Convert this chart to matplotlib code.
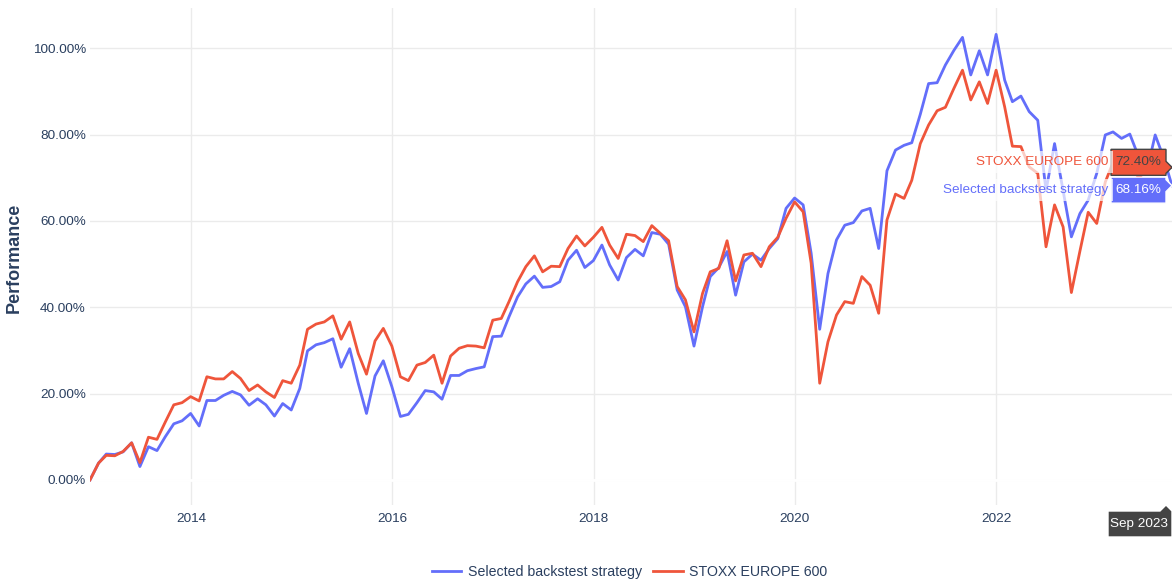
import matplotlib
matplotlib.use('Agg')
import matplotlib.pyplot as plt
import matplotlib.dates as mdates
import pandas as pd
from matplotlib.patches import Polygon
from matplotlib.transforms import IdentityTransform

plt.rcParams['font.family'] = ['Liberation Sans', 'DejaVu Sans']

# ---------------- data ----------------
dates = pd.date_range('2012-12-31', '2023-09-30', freq='ME')

strategy = [0, 3.9, 6.0, 5.9, 6.5, 8.6, 3.1, 7.7, 6.8, 10.0,
            13.0, 13.7, 15.4, 12.5, 18.4, 18.4, 19.6, 20.5, 19.7, 17.3,
            18.8, 17.4, 14.8, 17.7, 16.2, 21.2, 29.9, 31.3, 31.8, 32.7,
            26.1, 30.4, 22.4, 15.4, 24.1, 27.6, 21.6, 14.7, 15.2, 17.9,
            20.7, 20.4, 18.7, 24.2, 24.2, 25.3, 25.8, 26.2, 33.2, 33.3,
            37.8, 42.4, 45.4, 47.2, 44.6, 44.8, 45.9, 50.9, 53.2, 49.2,
            50.8, 54.4, 49.8, 46.3, 51.5, 53.4, 51.9, 57.3, 56.9, 54.6,
            44.0, 40.1, 31.0, 40.1, 47.1, 49.2, 52.9, 42.8, 50.5, 52.3,
            50.9, 53.6, 55.9, 62.9, 65.3, 63.7, 52.5, 34.9, 47.8, 55.6,
            59.0, 59.6, 62.3, 62.9, 53.6, 71.6, 76.4, 77.5, 78.1, 84.7,
            91.8, 92.0, 96.1, 99.5, 102.5, 93.8, 99.4, 93.8, 103.2, 92.6,
            87.6, 88.9, 85.3, 83.3, 67.0, 77.9, 67.0, 56.3, 61.7, 64.8,
            71.0, 79.9, 80.6, 79.1, 80.1, 75.0, 71.3, 79.9, 74.6, 68.16]

stoxx = [0, 3.9, 5.7, 5.6, 6.6, 8.6, 4.0, 9.9, 9.4, 13.4,
         17.4, 17.9, 19.3, 18.3, 23.9, 23.4, 23.4, 25.1, 23.5, 20.7,
         22.0, 20.4, 19.1, 23.0, 22.4, 26.6, 34.9, 36.1, 36.6, 38.0,
         32.6, 36.6, 29.3, 24.5, 32.2, 35.1, 31.0, 23.9, 23.0, 26.6,
         27.2, 28.9, 22.4, 28.7, 30.5, 31.1, 31.0, 30.6, 37.0, 37.4,
         41.3, 45.9, 49.4, 51.9, 48.2, 49.5, 49.4, 53.6, 56.5, 54.2,
         56.2, 58.5, 54.4, 51.3, 56.9, 56.6, 55.2, 58.9, 57.1, 55.4,
         44.8, 41.7, 34.3, 43.2, 48.2, 49.0, 55.4, 46.1, 52.1, 52.5,
         49.4, 54.0, 56.2, 60.6, 64.4, 62.1, 50.2, 22.4, 32.0, 38.2,
         41.3, 40.9, 47.1, 45.1, 38.6, 60.2, 66.2, 65.2, 69.4, 77.9,
         82.2, 85.5, 86.3, 90.7, 94.9, 88.0, 92.2, 87.2, 94.9, 86.4,
         77.3, 77.2, 72.5, 71.0, 54.0, 63.7, 58.6, 43.4, 53.0, 62.0,
         59.4, 69.0, 73.5, 72.5, 74.0, 70.0, 71.5, 74.0, 72.5, 72.40]

series_names = ['Selected backstest strategy', 'STOXX EUROPE 600']
colors = ['#636EFA', '#EF553B']
y_ticks = [0, 20, 40, 60, 80, 100]
x_tick_years = [2014, 2016, 2018, 2020, 2022]

# ---------------- figure ----------------
W, H = 1172, 582
fig = plt.figure(figsize=(W / 100, H / 100), dpi=100)
left, right, top, bottom = 90, 1172, 8, 505
ax = fig.add_axes([left / W, 1 - bottom / H, (right - left) / W, (bottom - top) / H])

txt_col = '#2a3f5f'
ax.set_xlim(dates[0], dates[-1])
ax.set_ylim(-5.8, 109.3)
ax.set_yticks(y_ticks)
ax.set_yticklabels([f'{v:.2f}%' for v in y_ticks])
ax.set_xticks([pd.Timestamp(f'{y}-01-01') for y in x_tick_years])
ax.set_xticklabels([str(y) for y in x_tick_years])
ax.tick_params(length=0, labelsize=9.7, colors=txt_col)
ax.tick_params(axis='y', pad=3)
ax.tick_params(axis='x', pad=6)
for s in ax.spines.values():
    s.set_visible(False)
ax.grid(True, color='#EBEBEB', lw=1)
ax.set_axisbelow(True)
ax.axhline(0, color='white', lw=2, zorder=1)

fig.text(14 / W, 1 - 258 / H, 'Performance', rotation=90, fontsize=13,
         fontweight='bold', color=txt_col, ha='center', va='center')

ax.plot(dates, strategy, color=colors[0], lw=2, label=series_names[0], zorder=3)
ax.plot(dates, stoxx, color=colors[1], lw=2, label=series_names[1], zorder=4)

leg = ax.legend(loc='center', bbox_to_anchor=(629.5 / W, 1 - 572 / H),
                bbox_transform=fig.transFigure, ncol=2, frameon=False,
                fontsize=10.2, handlelength=2.1, handletextpad=0.45, columnspacing=0.8)
for t in leg.get_texts():
    t.set_color(txt_col)

# ---------------- hover labels ----------------
xlast = mdates.date2num(dates[-1])
box_h = 26
box_left = 1111


def hover(val, col, edge, tcol, name, dy):
    xt, yt = ax.transData.transform((xlast, val))
    xt = min(xt, W)
    xr = xt - 6
    cy = yt + dy
    yT, yB = cy + box_h / 2, cy - box_h / 2
    pts = [(box_left, yB), (box_left, yT), (xr, yT), (xr, min(yT, yt + 6)),
           (xt, yt), (xr, max(yB, yt - 6)), (xr, yB)]
    fig.add_artist(Polygon(pts, closed=True, facecolor=col, edgecolor=edge, lw=1,
                           transform=IdentityTransform(), zorder=10, clip_on=False))
    fig.text((box_left + 4) / W, cy / H, f'{val:.2f}%', color=tcol, fontsize=9.7,
             ha='left', va='center', zorder=11)
    fig.text((box_left - 3) / W, cy / H, name, color=col, fontsize=9.7,
             ha='right', va='center', zorder=11,
             bbox=dict(facecolor='white', alpha=0.7, edgecolor='none', pad=3.5))


hover(stoxx[-1], colors[1], '#444444', '#444444', series_names[1], 5)
hover(strategy[-1], colors[0], 'white', 'white', series_names[0], -4.5)

# x hover label
xt, yt = ax.transData.transform((xlast, ax.get_ylim()[0]))
xt = min(xt, W)
bT = H - 511
bB = H - 537
pts = [(1108, bB), (1108, bT), (xt - 12, bT), (xt - 6, bT + 6), (xt, bT), (xt, bB)]
fig.add_artist(Polygon(pts, closed=True, facecolor='#444444', edgecolor='white', lw=1,
                       transform=IdentityTransform(), zorder=10, clip_on=False))
fig.text(1139 / W, (bT + bB) / 2 / H, dates[-1].strftime('%b %Y'), color='white',
         fontsize=9.7, ha='center', va='center', zorder=11)

fig.savefig('out.png', dpi=100)
